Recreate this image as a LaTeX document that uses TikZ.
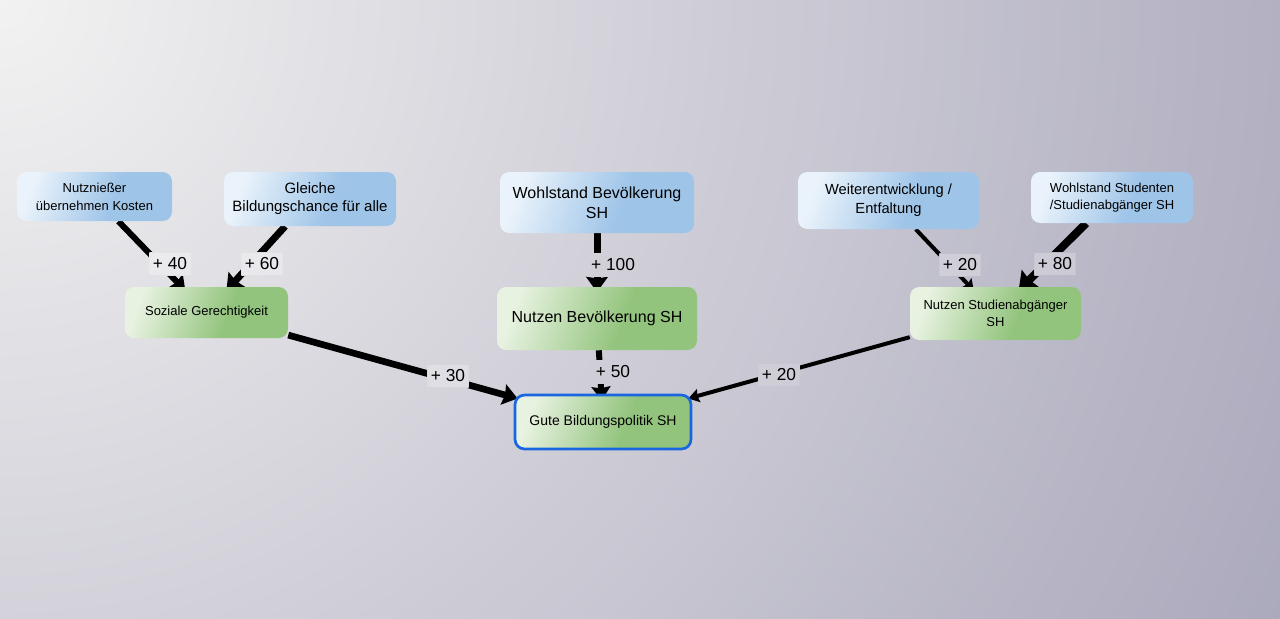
\documentclass[tikz,border=0pt]{standalone}
\usepackage{fontspec}
\setmainfont{Liberation Sans}
\usetikzlibrary{arrows.meta,shadings}
\definecolor{bgIn}{HTML}{F2F2F2}
\definecolor{bgOut}{HTML}{ABA9BC}
\definecolor{bL}{HTML}{EAF3FB}
\definecolor{bR}{HTML}{9EC4E8}
\definecolor{gL}{HTML}{E7F2E0}
\definecolor{gR}{HTML}{93C47D}
\definecolor{selblue}{HTML}{1A66E0}
\pgfdeclarehorizontalshading{blueshade}{100bp}{color(0bp)=(bL); color(25bp)=(bL); color(58bp)=(bR); color(100bp)=(bR)}
\pgfdeclarehorizontalshading{greenshade}{100bp}{color(0bp)=(gL); color(25bp)=(gL); color(58bp)=(gR); color(100bp)=(gR)}
\pgfdeclarelayer{bglayer}
\pgfdeclarelayer{edgelayer}
\pgfdeclarelayer{patchlayer}
\pgfsetlayers{bglayer,edgelayer,patchlayer,main}
\tikzset{
  box/.style={rectangle, rounded corners=7pt, inner sep=0pt, align=center, text=black},
  bluebox/.style={box, shading=blueshade, shading angle=-20},
  greenbox/.style={box, shading=greenshade, shading angle=-20},
  lbl/.style={inner xsep=2.5pt, inner ysep=3.5pt, font=\fontsize{13}{15}\selectfont},
  conn/.style={draw=black, shorten >=-4pt, -{Stealth[length=3.5pt 1.5, width=2pt 2.7, inset=1.2pt]}},
}
\newcommand{\mypatch}[2]{%
  \begin{pgfonlayer}{patchlayer}
  \begin{scope}
    \clip (#1.south west) rectangle (#1.north east);
    \shade[inner color=bgIn, outer color=bgOut] (0,0) circle (1421);
    \fill[white, opacity=#2] (#1.south west) rectangle (#1.north east);
  \end{scope}
  \end{pgfonlayer}}
\begin{document}
\begin{tikzpicture}[x=0.75pt,y=-0.75pt]
\useasboundingbox (0,0) rectangle (1280,618);
\begin{pgfonlayer}{bglayer}
\begin{scope}
\clip (0,0) rectangle (1280,618);
\shade[inner color=bgIn, outer color=bgOut] (0,0) circle (1421);
\end{scope}
\end{pgfonlayer}

\node[bluebox, minimum width=116.25pt, minimum height=36.75pt, font=\fontsize{9.75}{13.5}\selectfont] (nutz) at (94.5,196.5) {Nutznießer\\übernehmen Kosten};
\node[bluebox, minimum width=129pt, minimum height=40.5pt, font=\fontsize{11.25}{13.5}\selectfont] (gleich) at (310,199) {Gleiche\\Bildungschance für alle};
\node[bluebox, minimum width=145.5pt, minimum height=45.75pt, font=\fontsize{12}{15}\selectfont] (wbev) at (597,202.5) {Wohlstand Bevölkerung\\SH};
\node[bluebox, minimum width=135.75pt, minimum height=42.75pt, font=\fontsize{11}{14.25}\selectfont] (weiter) at (888.5,200.5) {Weiterentwicklung /\\Entfaltung};
\node[bluebox, minimum width=121.5pt, minimum height=38.25pt, font=\fontsize{9.75}{12.75}\selectfont] (wstud) at (1112,197.5) {Wohlstand Studenten\\/Studienabgänger SH};

\node[greenbox, minimum width=122.25pt, minimum height=38.25pt, font=\fontsize{9.75}{12.75}\selectfont] (sozial) at (206.5,312.5) {Soziale Gerechtigkeit};
\node[greenbox, minimum width=150pt, minimum height=47.25pt, font=\fontsize{12}{15}\selectfont] (nbev) at (597,318.5) {Nutzen Bevölkerung SH};
\node[greenbox, minimum width=128.25pt, minimum height=39.75pt, font=\fontsize{9.75}{12.75}\selectfont] (nstud) at (995.5,313.5) {Nutzen Studienabgänger\\SH};
\node[greenbox, minimum width=131.5pt, minimum height=40pt, font=\fontsize{10.5}{13}\selectfont] (gute) at (603,422) {Gute Bildungspolitik SH};
\draw[selblue, line width=2pt, rounded corners=7pt] (gute.north west) rectangle (gute.south east);

\begin{pgfonlayer}{edgelayer}
\draw[conn, line width=4.5pt] (nutz) -- (sozial);
\draw[conn, line width=5.25pt] (gleich) -- (sozial);
\draw[conn, line width=5.25pt] (wbev) -- (nbev);
\draw[conn, line width=4.5pt] (nbev) -- (gute);
\draw[conn, line width=5pt, shorten >=-2pt] (sozial) -- (gute);
\draw[conn, line width=3pt, shorten >=-2pt] (nstud) -- (gute);
\draw[conn, line width=3pt] (weiter) -- (nstud);
\draw[conn, line width=6pt] (wstud) -- (nstud);
\end{pgfonlayer}

\node[lbl] (l40) at (170,264) {+ 40};
\node[lbl] (l60) at (262,264) {+ 60};
\node[lbl] (l100) at (613,265) {+ 100};
\node[lbl] (l50) at (613,372) {+ 50};
\node[lbl] (l30) at (448,376) {+ 30};
\node[lbl] (l20a) at (779,375) {+ 20};
\node[lbl] (l20b) at (960,265) {+ 20};
\node[lbl] (l80) at (1055,264) {+ 80};
\mypatch{l40}{0.3}
\mypatch{l60}{0.3}
\mypatch{l100}{0}
\mypatch{l50}{0}
\mypatch{l30}{0.25}
\mypatch{l20a}{0.15}
\mypatch{l20b}{0.25}
\mypatch{l80}{0.25}
\end{tikzpicture}
\end{document}
